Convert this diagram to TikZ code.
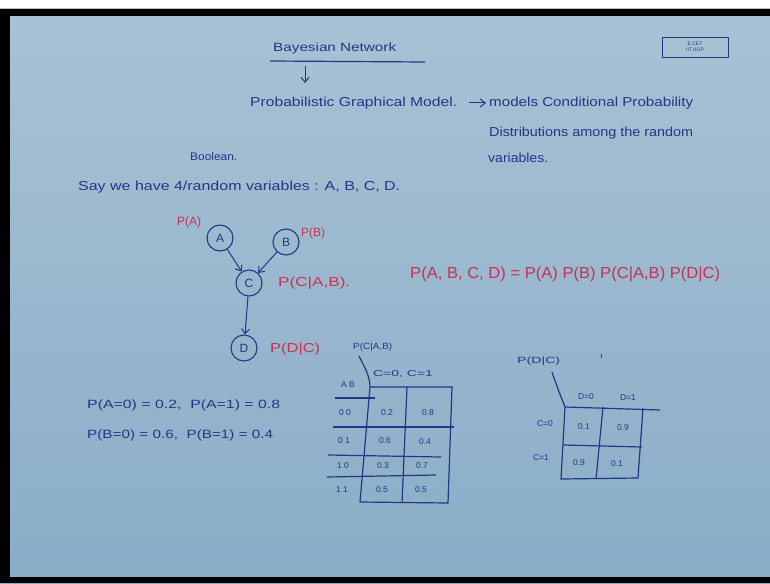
\documentclass[tikz,border=0pt]{standalone}
\usepackage{graphicx}
\usepackage{fontspec}
\setmainfont{Liberation Sans}
\usetikzlibrary{arrows.meta}
\definecolor{bgtop}{RGB}{168,194,213}
\definecolor{bgbot}{RGB}{138,173,199}
\definecolor{ink}{RGB}{36,54,134}
\definecolor{redink}{RGB}{200,48,84}
\newcommand{\hw}[2]{\resizebox{#1}{\height}{#2}}
\begin{document}
\begin{tikzpicture}[x=1pt,y=-1pt,
  txt/.style={text=ink, inner sep=0pt, anchor=west, font=\fontsize{13}{15}\selectfont},
  rtxt/.style={text=redink, inner sep=0pt, anchor=west, font=\fontsize{13}{15}\selectfont},
  var/.style={circle, draw=ink, line width=1.1pt, minimum size=26pt, inner sep=0pt, text=ink, font=\fontsize{12}{14}\selectfont},
  edge/.style={draw=ink, line width=1pt, -{Straight Barb[length=5pt,width=8pt]}},
  grid/.style={draw=ink, line width=1.2pt},
  cell/.style={text=ink, inner sep=0pt, font=\fontsize{8.5}{10}\selectfont}]
\useasboundingbox (0,0) rectangle (770,583);
% background
\fill[white] (0,0) rectangle (770,583);
\shade[top color=bgtop, bottom color=bgbot] (0,9) rectangle (770,583);
\fill[black] (0,9) rectangle (770,16);
\fill[black] (0,9) rectangle (10,583);
\fill[black] (0,577) rectangle (770,583);
% heading
\node[txt, font=\fontsize{12}{14}\selectfont] (title) at (273,48) {\hw{123pt}{Bayesian Network}};
\coordinate (ul1) at (270,61); \coordinate (ul2) at (425,62);
\draw[ink, line width=1.2pt] (ul1) -- (ul2);
\coordinate (da1) at (305,66); \coordinate (da2) at (305,83);
\draw[edge] (da1) -- (da2);
\node[txt] (pgm) at (250,103) {\hw{207pt}{Probabilistic Graphical Model.}};
\node[txt] (models) at (489,103) {\hw{204pt}{models Conditional Probability}};
\draw[edge] ([xshift=12pt]pgm.east) -- ([xshift=-3pt]models.west);
\node[txt] (distr) at (489,133) {\hw{204pt}{Distributions among the random}};
\node[txt] (vars) at (488,158) {\hw{60pt}{variables.}};
\node[draw=ink, line width=0.8pt, minimum width=66pt, minimum height=20pt, inner sep=1pt,
  text=ink, font=\fontsize{5}{6}\selectfont, align=center] (logo) at (695,47) {E CET\\IIT KGP};
% intro line
\node[txt, font=\fontsize{11}{13}\selectfont] (bool) at (190,157) {\hw{47pt}{Boolean.}};
\node[txt] (say) at (78,187) {\hw{322pt}{Say we have 4/random variables : A, B, C, D.}};
% network
\node[var] (A) at (220,238) {A};
\node[var] (B) at (286,242) {B};
\node[var] (C) at (249,283) {C};
\node[var] (D) at (244,348) {D};
\draw[edge] (A) -- (C);
\draw[edge] (B) -- (C);
\draw[edge] (C) -- (D);
\node[rtxt, anchor=center, font=\fontsize{12}{14}\selectfont] (pA) at (189,222) {P(A)};
\node[rtxt, anchor=center, font=\fontsize{12}{14}\selectfont] (pB) at (313,233) {P(B)};
\node[rtxt] (pCAB) at (278,283) {\hw{72pt}{P(C|A,B).}};
\node[rtxt] (pDC) at (270,349) {\hw{50pt}{P(D|C)}};
\node[rtxt, font=\fontsize{16}{18}\selectfont] (joint) at (410,274) {\hw{310pt}{P(A, B, C, D) = P(A) P(B) P(C|A,B) P(D|C)}};
% priors
\node[txt, font=\fontsize{12}{14}\selectfont] (pa) at (87,405) {\hw{193pt}{P(A=0) = 0.2,\ \ P(A=1) = 0.8}};
\node[txt, font=\fontsize{12}{14}\selectfont] (pb) at (87,435) {\hw{186pt}{P(B=0) = 0.6,\ \ P(B=1) = 0.4}};
% CPT of C
\node[txt, font=\fontsize{9}{10}\selectfont] (tlC) at (353,347) {\hw{39pt}{P(C|A,B)}};
\coordinate (cst) at (359,356);
\coordinate (c00) at (370,387); \coordinate (c01) at (407,387); \coordinate (c02) at (452,387);
\coordinate (b0) at (360,502); \coordinate (b1) at (402,503); \coordinate (b2) at (448,503);
\draw[grid] (cst) .. controls (364,366) and (370,376) .. (c00) -- (b0) -- (b2) -- (c02) -- (c00);
\draw[grid] (c01) -- (b1);
\coordinate (h0a) at (335,398); \coordinate (h0b) at (375,398);
\coordinate (h1a) at (333,427); \coordinate (h1b) at (454,427);
\coordinate (h2a) at (328,455); \coordinate (h2b) at (441,457);
\coordinate (h3a) at (327,477); \coordinate (h3b) at (436,475);
\draw[grid] (h0a) -- (h0b);
\draw[grid] (h1a) -- (h1b);
\draw[grid] (h2a) -- (h2b);
\draw[grid] (h3a) -- (h3b);
\node[cell] (hAB) at (348,385) {A B};
\node[cell] (hC) at (403,374) {\hw{60pt}{C=0, C=1}};
\node[cell] (r1) at (345,413) {0 0};
\node[cell] (r2) at (344,441) {0 1};
\node[cell] (r3) at (343,466) {1 0};
\node[cell] (r4) at (342,490) {1 1};
\node[cell] (v11) at (387,413) {0.2}; \node[cell] (v12) at (428,413) {0.8};
\node[cell] (v21) at (385,441) {0.6}; \node[cell] (v22) at (425,442) {0.4};
\node[cell] (v31) at (383,466) {0.3}; \node[cell] (v32) at (422,466) {0.7};
\node[cell] (v41) at (382,490) {0.5}; \node[cell] (v42) at (421,490) {0.5};
% CPT of D
\node[txt, font=\fontsize{9}{10}\selectfont] (tlD) at (517,361) {\hw{43pt}{P(D|C)}};
\coordinate (dst) at (552,372);
\coordinate (d00) at (565,407); \coordinate (d01) at (603,407); \coordinate (d02) at (643,408);
\coordinate (dend) at (660,410);
\coordinate (e0) at (561,479); \coordinate (e1) at (596,479); \coordinate (e2) at (638,478);
\coordinate (m0) at (563,445); \coordinate (m1) at (642,447);
\draw[grid] (dst) .. controls (556,384) and (561,397) .. (d00) -- (dend);
\draw[grid] (d00) -- (e0) -- (e2) -- (d02);
\draw[grid] (d01) -- (e1);
\draw[grid] (m0) -- (m1);
\node[cell] (hD0) at (586,397) {D=0};
\node[cell] (hD1) at (628,398) {D=1};
\node[cell] (rC0) at (545,424) {C=0};
\node[cell] (rC1) at (541,458) {C=1};
\node[cell] (w11) at (584,427) {0.1}; \node[cell] (w12) at (623,428) {0.9};
\node[cell] (w21) at (579,463) {0.9}; \node[cell] (w22) at (617,464) {0.1};
\coordinate (st1) at (601,354); \coordinate (st2) at (601.6,358);
\draw[ink, line width=0.8pt] (st1) -- (st2);
\end{tikzpicture}
\end{document}
